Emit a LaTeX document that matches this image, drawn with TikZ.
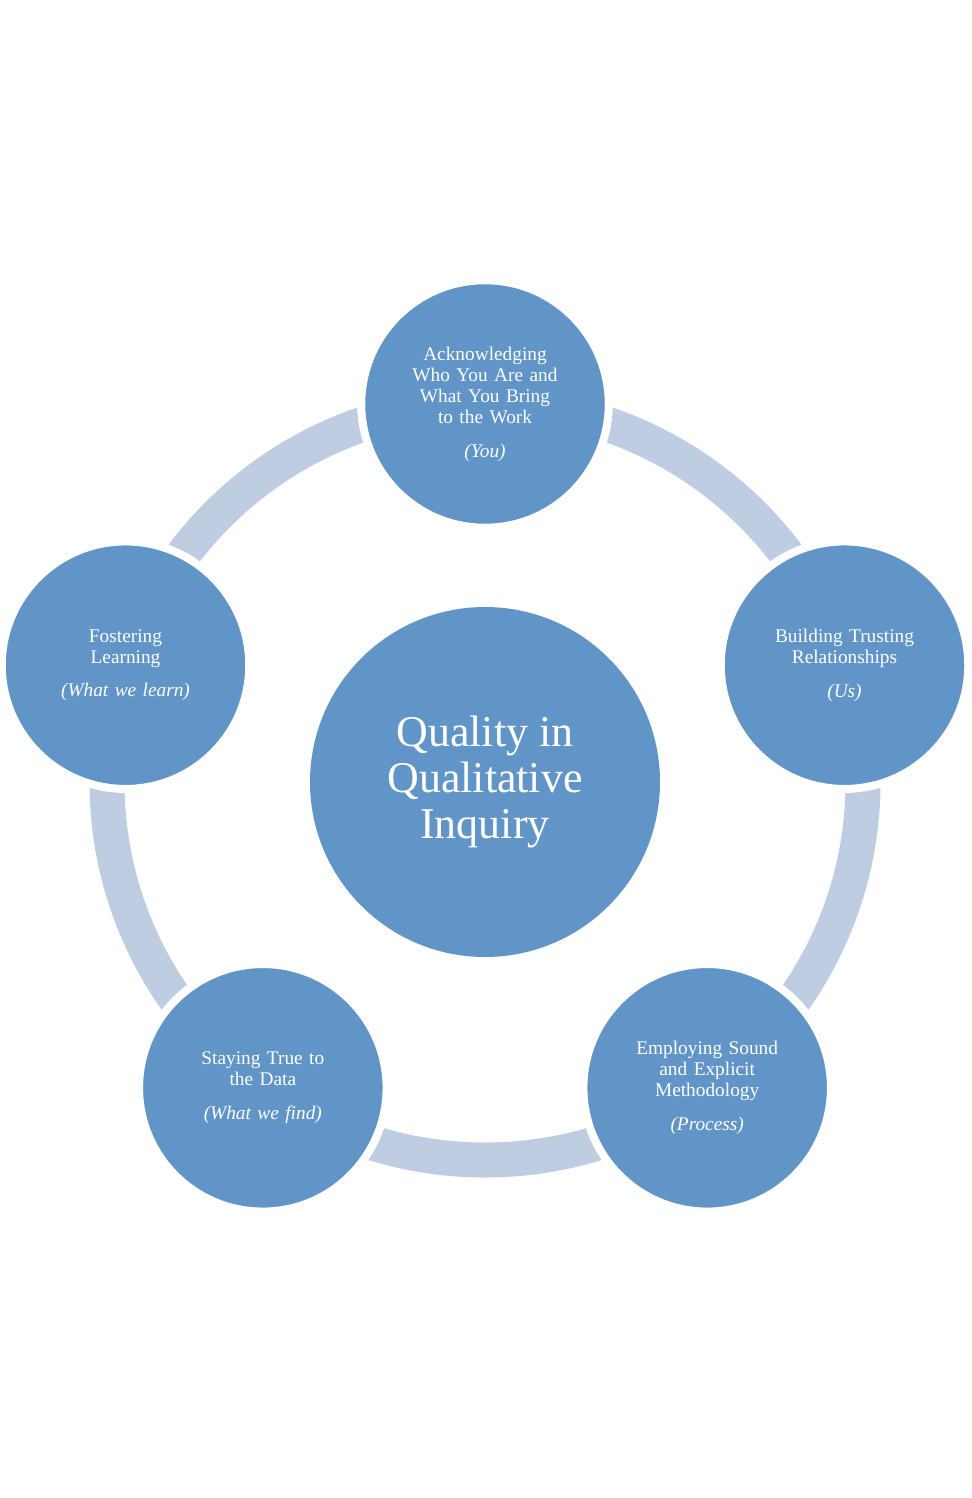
\documentclass[tikz,border=0pt]{standalone}
\usepackage{fontspec}
\setmainfont{Liberation Serif}
\usepackage{tikz}
\usetikzlibrary{calc}
\definecolor{disc}{RGB}{98,149,199}
\definecolor{ring}{RGB}{190,205,226}
\tikzset{
	stage/.style = {circle, fill=disc, draw=white, line width=0.16cm, minimum size=4.95cm,
		inner sep=0pt, text=white, align=center, font=\fontsize{11}{12}\selectfont, text width=3.6cm},
	hub/.style = {circle, fill=disc, minimum size=7cm, inner sep=0pt, text=white,
		align=center, font=\fontsize{25}{26}\selectfont}
}
\begin{document}
\begin{tikzpicture}
	\useasboundingbox (0,0) rectangle (19.42,-29.96);
	\coordinate (mid) at (9.7,-15.64);
	% ring
	\draw [ring, line width=0.7cm] (mid) circle (7.56);

	\node [hub] (core) at (mid) {Quality in\\Qualitative\\Inquiry};

	\node [stage] (you) at ($(mid)+(90:7.56)$) {Acknowledging\\Who You Are and\\What You Bring\\to the Work\\[0.25cm]\textit{(You)}};
	\node [stage] (us) at ($(mid)+(18:7.56)$) {Building Trusting\\Relationships\\[0.25cm]\textit{(Us)}};
	\node [stage] (process) at ($(mid)+(-54:7.56)$) {Employing Sound\\and Explicit\\Methodology\\[0.25cm]\textit{(Process)}};
	\node [stage] (find) at ($(mid)+(-126:7.56)$) {Staying True to\\the Data\\[0.25cm]\textit{(What we find)}};
	\node [stage] (learn) at ($(mid)+(162:7.56)$) {Fostering\\Learning\\[0.25cm]\textit{(What we learn)}};
\end{tikzpicture}
\end{document}
